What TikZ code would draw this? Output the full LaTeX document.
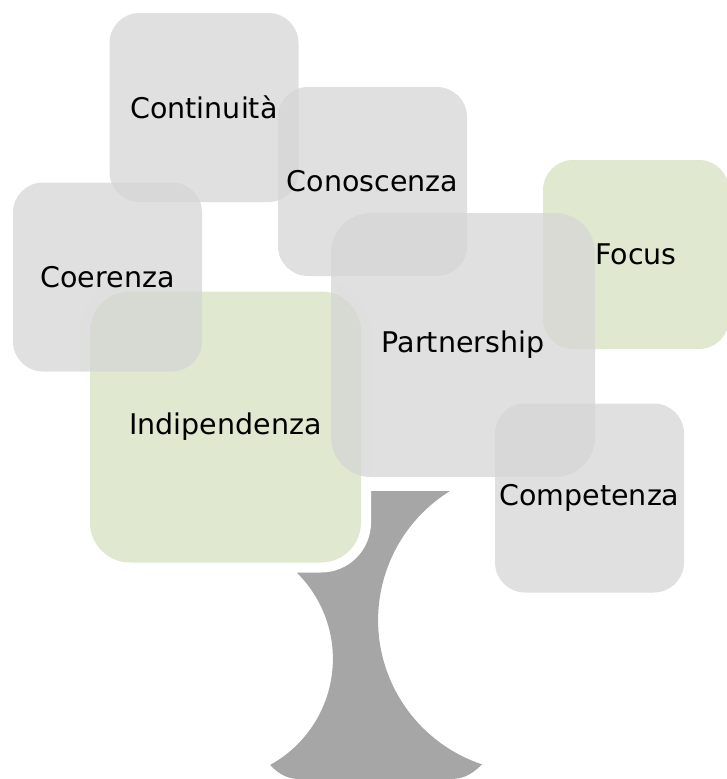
\documentclass[tikz,border=0pt]{standalone}
\usepackage{fontspec}
\setmainfont{DejaVu Sans}
\definecolor{boxgrey}{RGB}{213,213,213}
\definecolor{boxgreen}{RGB}{214,226,191}
\definecolor{trunkgrey}{RGB}{166,166,166}

\begin{document}
\begin{tikzpicture}[x=1pt, y=1pt,
        box/.style = {minimum width=189pt, minimum height=189pt, rounded corners=30pt,
            inner sep=0pt, fill opacity=.75, text opacity=1,
            font=\fontsize{28.5}{34}\selectfont},
        bigbox/.style = {box, minimum width=#1, minimum height=#1, rounded corners=40pt},
        leafgrey/.style = {fill=boxgrey},
        leafgreen/.style = {fill=boxgreen}]
        \useasboundingbox (0,0) rectangle (726,-779);
        % trunk
        \fill[trunkgrey] (290,-491) -- (450,-491)
            arc[start angle=121.8, end angle=251.6, radius=152]
            .. controls (470,-776) and (462,-779) .. (450,-779) -- (300,-779)
            .. controls (288,-779) and (280,-775) .. (270,-765)
            arc[start angle=-61.3, end angle=45.3, radius=121] -- cycle;
        % leaves
        \node[bigbox=271pt, leafgreen,
            preaction={fill=white, fill opacity=1, draw=white, line width=20pt}] (indip) at (225.5,-427) {Indipendenza};
        \node[box, leafgrey]  (contin)  at (204,-107.5)   {Continuità};
        \node[box, leafgrey]  (conosc)  at (372.5,-181.5) {Conoscenza};
        \node[box, leafgrey]  (coer)    at (107.5,-277)   {Coerenza};
        \node[box, leafgreen, minimum width=186pt] (focus) at (636,-254.5) {Focus};
        \node[bigbox=264pt, leafgrey] (partner) at (463,-345) {Partnership};
        \node[box, leafgrey]  (compet)  at (589.5,-498)   {Competenza};
    \end{tikzpicture}
\end{document}
